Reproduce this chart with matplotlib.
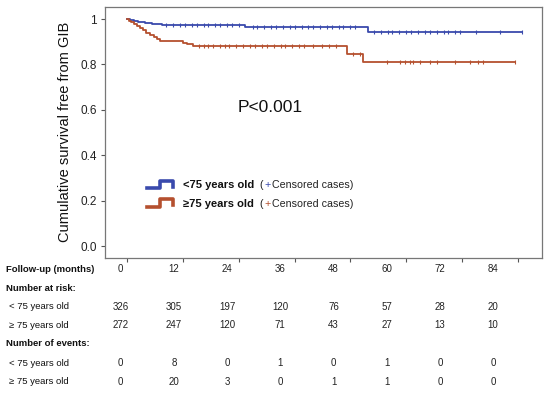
import numpy as np
import matplotlib.pyplot as plt
from matplotlib.lines import Line2D

plt.rcParams['font.family'] = ['Liberation Sans', 'DejaVu Sans']

# step curves (months, survival)
blue_t = [0, 0.8, 1.5, 2.5, 4.0, 5.5, 7.5, 25.4, 51.8]
blue_s = [1.0, 0.994, 0.99, 0.985, 0.982, 0.978, 0.975, 0.967, 0.942]
blue_end = 84.9
red_t = [0, 0.5, 1.0, 1.5, 2.2, 2.8, 3.5, 4.2, 5.0, 5.8, 6.6, 7.2, 12.0, 13.0, 14.2, 47.3, 50.7]
red_s = [1.0, 0.993, 0.985, 0.978, 0.97, 0.96, 0.95, 0.94, 0.93, 0.92, 0.91, 0.905, 0.895, 0.888, 0.88, 0.845, 0.81]
red_end = 83.3

blue_cens = [8.5, 10, 11.5, 12.5, 14, 15, 16.5, 17.5, 19, 20, 21.5, 22.5, 24, 27, 28, 29.5, 31,
             32, 33.5, 35, 36, 37.5, 39, 40, 41.5, 43, 44, 45.5, 46.5, 48, 49, 53, 54.5, 56, 57,
             58.5, 60, 61, 62.5, 64, 65, 66.5, 68, 69, 70.5, 71.5, 75, 80, 84.9]
red_cens = [15.5, 16.5, 17.5, 18.5, 20, 21, 22, 23.5, 25, 26.5, 27.5, 29, 30, 31.5, 33, 34,
            35.5, 37, 38, 40, 42, 43.5, 45, 48.5, 50, 55.9, 58.6, 59.7, 60.8, 61.4, 62.9, 65,
            66.6, 70.4, 73.7, 75.4, 76.5, 83.3]

months = [0, 12, 24, 36, 48, 60, 72, 84]
risk_lt75 = [326, 305, 197, 120, 76, 57, 28, 20]
risk_ge75 = [272, 247, 120, 71, 43, 27, 13, 10]
events_lt75 = [0, 8, 0, 1, 0, 1, 0, 0]
events_ge75 = [0, 20, 3, 0, 1, 1, 0, 0]

blue = '#3a4aad'
red = '#b5502f'

W, H = 550, 394
fig = plt.figure(figsize=(5.5, 3.94), dpi=100)
ax = fig.add_axes([105 / W, 1 - 257.7 / H, 437 / W, 250.7 / H])


def fx(px):
    return px / W


def fy(py):
    return 1 - py / H


def km(t, s, end, cens, color):
    tt = list(t) + [end]
    ss = list(s) + [s[-1]]
    ax.step(tt, ss, where='post', color=color, lw=1.3)
    idx = np.searchsorted(t, cens, side='right') - 1
    ax.plot(cens, np.array(s)[idx], ls='none', marker='|', ms=3.5, mew=0.8, color=color)


km(blue_t, blue_s, blue_end, blue_cens, blue)
km(red_t, red_s, red_end, red_cens, red)

ax.set_xlim(-4.66, 89.1)
ax.set_ylim(-0.0515, 1.053)
ax.set_xticks(months)
ax.set_xticklabels([])
ax.set_yticks([0, 0.2, 0.4, 0.6, 0.8, 1.0])
ax.set_yticklabels(['0.0', '0.2', '0.4', '0.6', '0.8', '1'])
ax.tick_params(length=3, width=0.8, color='#555555', labelsize=8.5, labelcolor='#222222', pad=3)
for sp in ax.spines.values():
    sp.set_color('#777777')
    sp.set_linewidth(0.9)
ax.set_ylabel('Cumulative survival free from GIB', fontsize=10.5, color='#111111', labelpad=6)

fig.text(fx(270), fy(107), 'P<0.001', fontsize=12.5, ha='center', va='center', color='#111111')

# legend
for (yb, yt, yr, color, lab) in [(188.3, 180.7, 186.7, blue, '<75 years old'),
                                  (206.7, 199.3, 205.0, red, '\u226575 years old')]:
    xs = [146.7, 160, 160, 173.3, 173.3]
    ys = [yb, yb, yt, yt, yr]
    fig.add_artist(Line2D([fx(x) for x in xs], [fy(y) for y in ys], color=color, lw=2.6,
                          transform=fig.transFigure))
    ymid = (yb + yt) / 2 + 1
    fig.text(fx(182.7), fy(ymid), lab, fontsize=8, fontweight='bold', va='center', color='#111111')
    fig.text(fx(259.3), fy(ymid), '(', fontsize=7.7, va='center', color='#222222')
    fig.text(fx(264), fy(ymid), '+', fontsize=7.7, va='center', color=color)
    fig.text(fx(272), fy(ymid), 'Censored cases)', fontsize=7.7, va='center', color='#222222')

# table below
cols = [120.7 + 53.2 * i for i in range(len(months))]
rows = [
    (269.3, 'Follow-up (months)', True, 6, months),
    (288.3, 'Number at risk:', True, 6, None),
    (306.7, '< 75 years old', False, 9, risk_lt75),
    (325.0, '\u2265 75 years old', False, 9, risk_ge75),
    (344.0, 'Number of events:', True, 6, None),
    (363.3, '< 75 years old', False, 9, events_lt75),
    (381.7, '\u2265 75 years old', False, 9, events_ge75),
]
for y, label, bold, x0, vals in rows:
    fig.text(fx(x0), fy(y), label, fontsize=6.8, va='center',
             fontweight='bold' if bold else 'normal', color='#111111')
    if vals is not None:
        for c, v in zip(cols, vals):
            fig.text(fx(c), fy(y), str(v), fontsize=7, va='center', ha='center', color='#222222')

fig.savefig('out.png', dpi=100)
